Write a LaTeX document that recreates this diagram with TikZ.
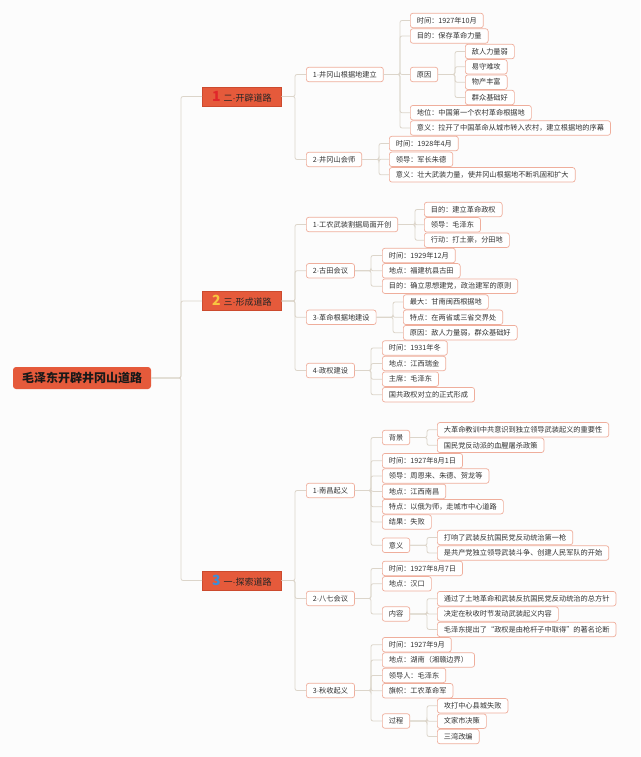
\documentclass[tikz,border=0pt]{standalone}
\usepackage{fontspec}
\setmainfont{Noto Sans CJK SC}
\newfontfamily\latf{Liberation Sans}
\definecolor{bgc}{HTML}{FCFCFC}
\definecolor{linec}{HTML}{DCD5CA}
\definecolor{leafb}{HTML}{EFAE9C}
\definecolor{txt}{HTML}{333333}
\definecolor{headf}{HTML}{E55A3B}
\definecolor{headd}{HTML}{CC4A2E}
\definecolor{bone}{HTML}{E0262A}
\definecolor{btwo}{HTML}{F8C540}
\definecolor{bthree}{HTML}{3D8FD8}
\newcommand\badge[2]{{\fontsize{14}{14}\selectfont\bfseries\color{#1}#2}}
\newcommand\md{{\latf ·}}
\newcommand\lnk[3]{\draw[conn] (#1.east) -| ([xshift=-#3pt]#2.west) -- (#2.west);}
\tikzset{
  leaf/.style={draw=leafb, fill=white, rounded corners=2.5pt, line width=0.7pt,
    font=\fontsize{7.2}{9}\selectfont, text=txt, minimum height=14.5pt,
    inner xsep=6.5pt, inner ysep=0pt, anchor=west},
  headbox/.style={draw=headd, fill=headf, line width=0.6pt, minimum width=79pt,
    minimum height=19pt, inner sep=0pt, anchor=west, text=black!85,
    font=\fontsize{9}{11}\selectfont},
  rootbox/.style={fill=headf, rounded corners=3pt, minimum width=138pt,
    minimum height=22pt, inner sep=0pt, text=black!90,
    font=\fontsize{12}{14}\selectfont\bfseries},
  conn/.style={draw=linec, line width=0.8pt, rounded corners=2pt}
}
\begin{document}
\begin{tikzpicture}[x=1pt,y=-1pt]
\fill[bgc] (0,0) rectangle (640,757);
\useasboundingbox (0,0) rectangle (640,757);

% root and headers
\node[rootbox] (r) at (82,378) {毛泽东开辟井冈山道路};
\node[headbox] (h1) at (202,96.5) {\badge{bone}{1}\hspace{3pt}二\md 开辟道路};
\node[headbox] (h2) at (202,301) {\badge{btwo}{2}\hspace{3pt}三\md 形成道路};
\node[headbox] (h3) at (202,580.5) {\badge{bthree}{3}\hspace{3pt}一\md 探索道路};

% group 1
\node[leaf] (a1) at (306,74.5) {1\md 井冈山根据地建立};
\node[leaf] (a1a) at (410,20.5) {时间：1927年10月};
\node[leaf] (a1b) at (410,36) {目的：保存革命力量};
\node[leaf] (a1c) at (410,74.5) {原因};
\node[leaf] (a1c1) at (465,51.5) {敌人力量弱};
\node[leaf] (a1c2) at (465,66.8) {易守难攻};
\node[leaf] (a1c3) at (465,82.2) {物产丰富};
\node[leaf] (a1c4) at (465,97.5) {群众基础好};
\node[leaf] (a1d) at (410,112.7) {地位：中国第一个农村革命根据地};
\node[leaf] (a1e) at (410,128) {意义：拉开了中国革命从城市转入农村，建立根据地的序幕};
\node[leaf] (a2) at (306,159.5) {2\md 井冈山会师};
\node[leaf] (a2a) at (389,143.5) {时间：1928年4月};
\node[leaf] (a2b) at (389,159.3) {领导：军长朱德};
\node[leaf] (a2c) at (389,174.8) {意义：壮大武装力量，使井冈山根据地不断巩固和扩大};

% group 2
\node[leaf] (b1) at (306,224.5) {1\md 工农武装割据局面开创};
\node[leaf] (b1a) at (424,209.5) {目的：建立革命政权};
\node[leaf] (b1b) at (424,224.8) {领导：毛泽东};
\node[leaf] (b1c) at (424,240.2) {行动：打土豪，分田地};
\node[leaf] (b2) at (306,270.8) {2\md 古田会议};
\node[leaf] (b2a) at (382,255.5) {时间：1929年12月};
\node[leaf] (b2b) at (382,270.8) {地点：福建杭县古田};
\node[leaf] (b2c) at (382,286.2) {目的：确立思想建党，政治建军的原则};
\node[leaf] (b3) at (306,317.3) {3\md 革命根据地建设};
\node[leaf] (b3a) at (403,302) {最大：甘南闽西根据地};
\node[leaf] (b3b) at (403,317.3) {特点：在两省或三省交界处};
\node[leaf] (b3c) at (403,332.7) {原因：敌人力量弱，群众基础好};
\node[leaf] (b4) at (306,370.5) {4\md 政权建设};
\node[leaf] (b4a) at (382,348) {时间：1931年冬};
\node[leaf] (b4b) at (382,363.5) {地点：江西瑞金};
\node[leaf] (b4c) at (382,379.2) {主席：毛泽东};
\node[leaf] (b4d) at (382,394.7) {国共政权对立的正式形成};

% group 3
\node[leaf] (c1) at (306,490.5) {1\md 南昌起义};
\node[leaf] (c1a) at (382,437.5) {背景};
\node[leaf] (c1a1) at (437,429.8) {大革命教训中共意识到独立领导武装起义的重要性};
\node[leaf] (c1a2) at (437,445.3) {国民党反动派的血腥屠杀政策};
\node[leaf] (c1b) at (382,460.7) {时间：1927年8月1日};
\node[leaf] (c1c) at (382,476) {领导：周恩来、朱德、贺龙等};
\node[leaf] (c1d) at (382,491.4) {地点：江西南昌};
\node[leaf] (c1e) at (382,506.7) {特点：以俄为师，走城市中心道路};
\node[leaf] (c1f) at (382,522) {结果：失败};
\node[leaf] (c1g) at (382,545.3) {意义};
\node[leaf] (c1g1) at (437,537.5) {打响了武装反抗国民党反动统治第一枪};
\node[leaf] (c1g2) at (437,553) {是共产党独立领导武装斗争、创建人民军队的开始};
\node[leaf] (c2) at (306,598.5) {2\md 八七会议};
\node[leaf] (c2a) at (382,568.4) {时间：1927年8月7日};
\node[leaf] (c2b) at (382,583.8) {地点：汉口};
\node[leaf] (c2c) at (382,614) {内容};
\node[leaf] (c2c1) at (437,598.7) {通过了土地革命和武装反抗国民党反动统治的总方针};
\node[leaf] (c2c2) at (437,614) {决定在秋收时节发动武装起义内容};
\node[leaf] (c2c3) at (437,629.4) {毛泽东提出了“政权是由枪杆子中取得”的著名论断};
\node[leaf] (c3) at (306,690.5) {3\md 秋收起义};
\node[leaf] (c3a) at (382,644.7) {时间：1927年9月};
\node[leaf] (c3b) at (382,660) {地点：湖南（湘赣边界）};
\node[leaf] (c3c) at (382,675.4) {领导人：毛泽东};
\node[leaf] (c3d) at (382,690.7) {旗帜：工农革命军};
\node[leaf] (c3e) at (382,721) {过程};
\node[leaf] (c3e1) at (437,705.8) {攻打中心县城失败};
\node[leaf] (c3e2) at (437,721.2) {文家市决策};
\node[leaf] (c3e3) at (437,736.5) {三湾改编};

% connectors
\lnk{r}{h1}{21}\lnk{r}{h2}{21}\lnk{r}{h3}{21}
\lnk{h1}{a1}{11}\lnk{h1}{a2}{11}
\lnk{a1}{a1a}{10}\lnk{a1}{a1b}{10}\lnk{a1}{a1c}{10}\lnk{a1}{a1d}{10}\lnk{a1}{a1e}{10}
\lnk{a1c}{a1c1}{10}\lnk{a1c}{a1c2}{10}\lnk{a1c}{a1c3}{10}\lnk{a1c}{a1c4}{10}
\lnk{a2}{a2a}{10}\lnk{a2}{a2b}{10}\lnk{a2}{a2c}{10}
\lnk{h2}{b1}{11}\lnk{h2}{b2}{11}\lnk{h2}{b3}{11}\lnk{h2}{b4}{11}
\lnk{b1}{b1a}{9}\lnk{b1}{b1b}{9}\lnk{b1}{b1c}{9}
\lnk{b2}{b2a}{11}\lnk{b2}{b2b}{11}\lnk{b2}{b2c}{11}
\lnk{b3}{b3a}{10}\lnk{b3}{b3b}{10}\lnk{b3}{b3c}{10}
\lnk{b4}{b4a}{11}\lnk{b4}{b4b}{11}\lnk{b4}{b4c}{11}\lnk{b4}{b4d}{11}
\lnk{h3}{c1}{11}\lnk{h3}{c2}{11}\lnk{h3}{c3}{11}
\lnk{c1}{c1a}{11}\lnk{c1}{c1b}{11}\lnk{c1}{c1c}{11}\lnk{c1}{c1d}{11}\lnk{c1}{c1e}{11}\lnk{c1}{c1f}{11}\lnk{c1}{c1g}{11}
\lnk{c1a}{c1a1}{10}\lnk{c1a}{c1a2}{10}
\lnk{c1g}{c1g1}{10}\lnk{c1g}{c1g2}{10}
\lnk{c2}{c2a}{11}\lnk{c2}{c2b}{11}\lnk{c2}{c2c}{11}
\lnk{c2c}{c2c1}{10}\lnk{c2c}{c2c2}{10}\lnk{c2c}{c2c3}{10}
\lnk{c3}{c3a}{11}\lnk{c3}{c3b}{11}\lnk{c3}{c3c}{11}\lnk{c3}{c3d}{11}\lnk{c3}{c3e}{11}
\lnk{c3e}{c3e1}{10}\lnk{c3e}{c3e2}{10}\lnk{c3e}{c3e3}{10}
\end{tikzpicture}
\end{document}
